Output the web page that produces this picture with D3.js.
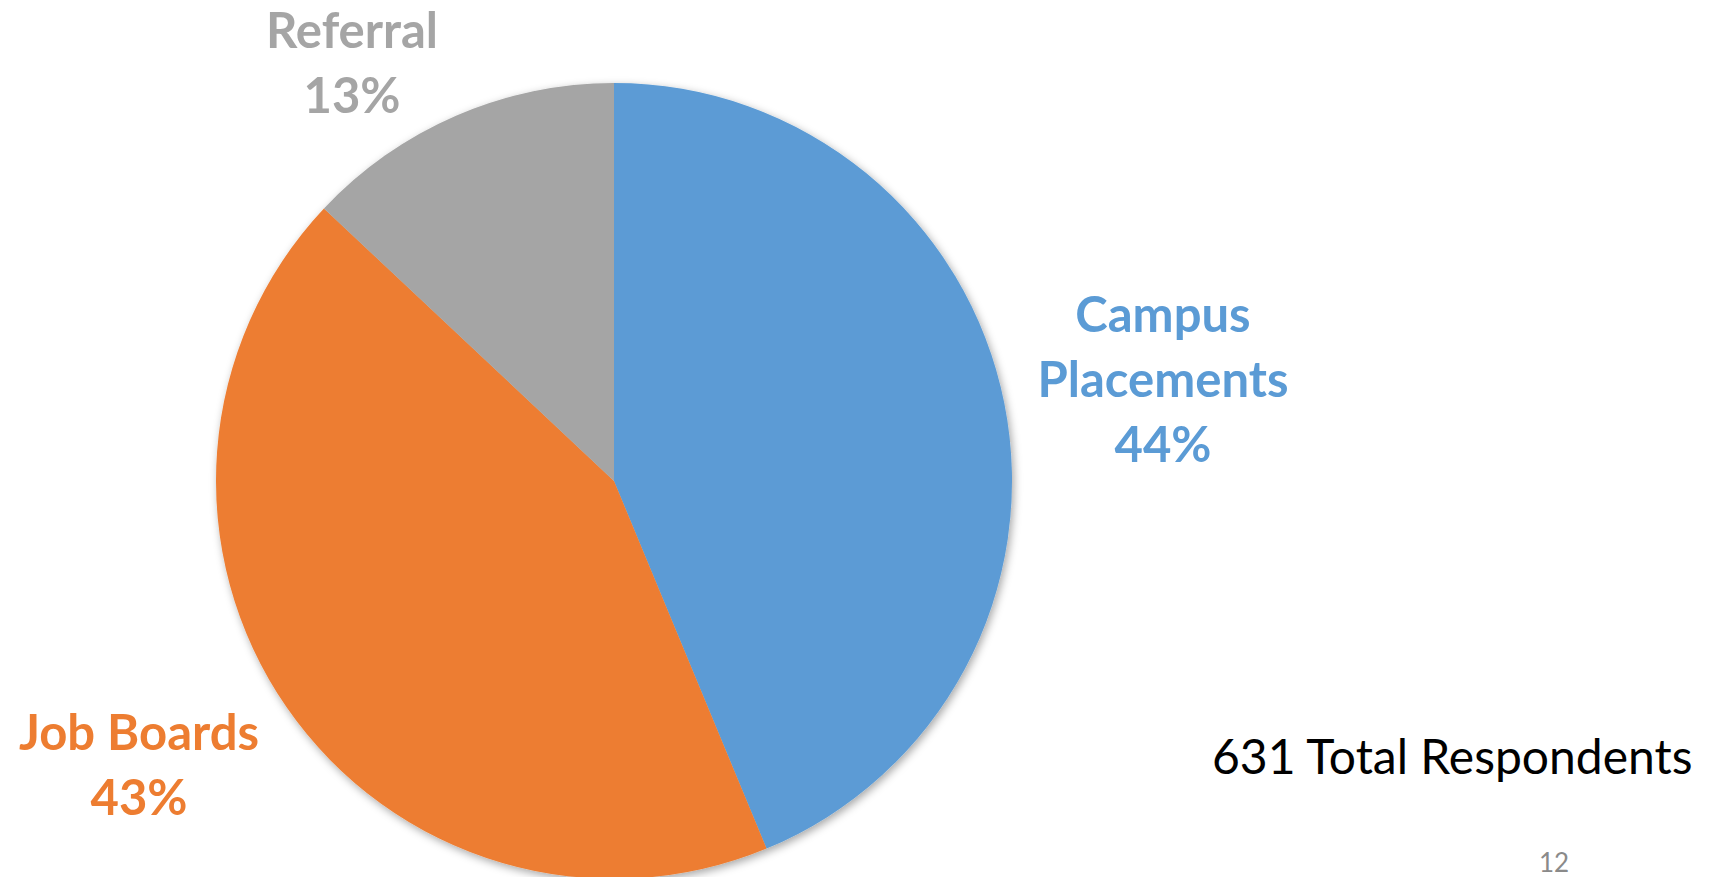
<html>
<head>
<style>
  body { margin: 0; background: white; }
  text { font-family: Lato, "Open Sans", sans-serif; }
</style>
</head>
<body>
<script src="https://d3js.org/d3.v7.min.js"></script>
<script>

// Sources of the job: respondents per source (631 in total)
var categories = ["Campus Placements", "Job Boards", "Referral"];
var respondents = [276, 273, 82];
var nameLines = [["Campus", "Placements"], ["Job Boards"], ["Referral"]];
var colors = ["#5b9bd5", "#ed7d31", "#a5a5a5"];
var totalNote = "631 Total Respondents";
var pageNumber = "12";

var width = 1731,
    height = 877,
    cx = 614,
    cy = 481,
    radius = 398;

var svg = d3.select("body").append("svg")
  .attr("width", width)
  .attr("height", height);

// soft shadow under the pie
var filter = svg.append("defs").append("filter")
  .attr("id", "shadow")
  .attr("x", "-10%").attr("y", "-10%")
  .attr("width", "120%").attr("height", "120%");
filter.append("feDropShadow")
  .attr("dx", 2).attr("dy", 3)
  .attr("stdDeviation", 4)
  .attr("flood-color", "#000")
  .attr("flood-opacity", 0.35);

var total = d3.sum(respondents);
var pct = d3.format(".0%");

var data = categories.map(function(c, i) {
  return {
    name: c,
    value: respondents[i],
    color: colors[i],
    lines: nameLines[i].concat([pct(respondents[i] / total)])
  };
});

var pie = d3.pie()
  .sort(null)
  .value(function(d) { return d.value; });

var arc = d3.arc().innerRadius(0).outerRadius(radius);

var g = svg.append("g")
  .attr("transform", "translate(" + cx + "," + cy + ")");

g.append("g")
  .style("filter", "url(#shadow)")
  .selectAll("path")
  .data(pie(data))
  .enter().append("path")
    .attr("d", arc)
    .attr("fill", function(d) { return d.data.color; });

// label positions: outside the pie, as in the slide
var labelPos = [[1163, 332], [139, 750], [352, 48]];
var lineHeight = 65;

svg.selectAll("text.label")
  .data(data)
  .enter().append("text")
    .attr("class", "label")
    .attr("text-anchor", "middle")
    .attr("font-size", 49)
    .attr("font-weight", "bold")
    .attr("fill", function(d) { return d.color; })
    .each(function(d, i) {
      var t = d3.select(this);
      d.lines.forEach(function(line, j) {
        t.append("tspan")
          .attr("x", labelPos[i][0])
          .attr("y", labelPos[i][1] + j * lineHeight)
          .text(line);
      });
    });

svg.append("text")
  .attr("x", 1212)
  .attr("y", 774)
  .attr("font-size", 48)
  .attr("fill", "#000")
  .text(totalNote);

svg.append("text")
  .attr("x", 1554)
  .attr("y", 872)
  .attr("text-anchor", "middle")
  .attr("font-size", 26)
  .attr("fill", "#8a8a8a")
  .text(pageNumber);

</script>
</body>
</html>
